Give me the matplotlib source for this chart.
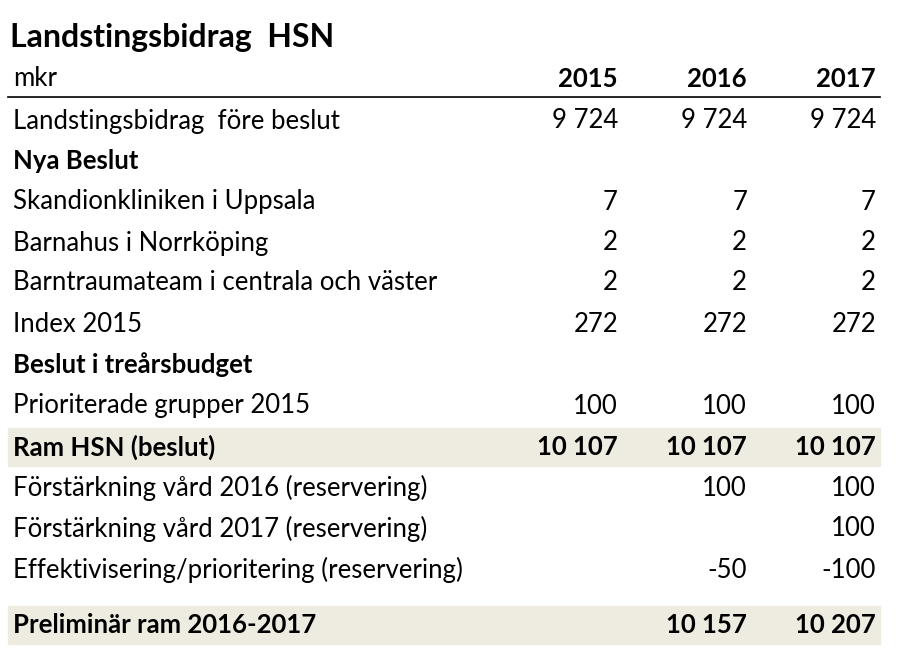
import matplotlib.pyplot as plt
from matplotlib.patches import Rectangle

W, H = 897, 668
title = "Landstingsbidrag  HSN"
unit = "mkr"
years = ["2015", "2016", "2017"]
labels = [
    "Landstingsbidrag  före beslut",
    "Nya Beslut",
    "Skandionkliniken i Uppsala",
    "Barnahus i Norrköping",
    "Barntraumateam i centrala och väster",
    "Index 2015",
    "Beslut i treårsbudget",
    "Prioriterade grupper 2015",
    "Ram HSN (beslut)",
    "Förstärkning vård 2016 (reservering)",
    "Förstärkning vård 2017 (reservering)",
    "Effektivisering/prioritering (reservering)",
    "Preliminär ram 2016-2017",
]
values = [
    ["9 724", "9 724", "9 724"],
    ["", "", ""],
    ["7", "7", "7"],
    ["2", "2", "2"],
    ["2", "2", "2"],
    ["272", "272", "272"],
    ["", "", ""],
    ["100", "100", "100"],
    ["10 107", "10 107", "10 107"],
    ["", "100", "100"],
    ["", "", "100"],
    ["", "-50", "-100"],
    ["", "10 157", "10 207"],
]
bold_rows = {1, 6, 8, 12}
shaded_rows = {8, 12}

row_y = [121, 161, 202, 243, 283, 324, 365, 406, 447, 488, 529, 570, 625]
col_x = [618, 747, 876]

plt.rcParams["font.family"] = "Lato"
fig = plt.figure(figsize=(W / 100, H / 100), dpi=100)
ax = fig.add_axes([0, 0, 1, 1])
ax.set_xlim(0, W)
ax.set_ylim(H, 0)
ax.axis("off")

fs = 18.5
ax.text(10, 37, title, fontsize=23, fontweight="bold", va="center")
ax.text(13, 79, unit, fontsize=fs, va="center")
for x, yr in zip(col_x, years):
    ax.text(x, 79, yr, fontsize=fs, fontweight="bold", va="center", ha="right")
ax.plot([8, 880], [97, 97], color="black", lw=1.2)

for i, (lab, vals, y) in enumerate(zip(labels, values, row_y)):
    b = "bold" if i in bold_rows else "normal"
    if i in shaded_rows:
        ax.add_patch(Rectangle((8, y - 19), 872, 38, color="#EEECE1", zorder=0))
    ax.text(13, y, lab, fontsize=fs, fontweight=b, va="center")
    for x, v in zip(col_x, vals):
        ax.text(x, y, v, fontsize=fs, fontweight=b, va="center", ha="right")

fig.savefig("out.png", dpi=100)
